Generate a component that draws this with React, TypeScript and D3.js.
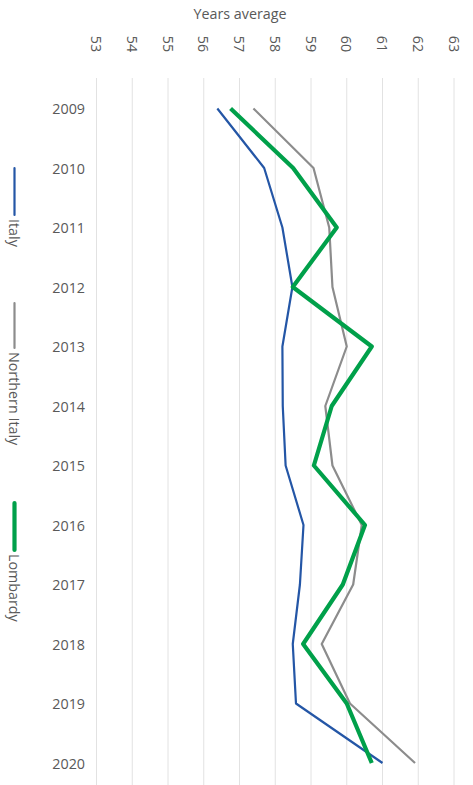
import React from 'react';
import * as d3 from 'd3';

// data
const years = ['2009', '2010', '2011', '2012', '2013', '2014', '2015', '2016', '2017', '2018', '2019', '2020'];
const italy = [56.38, 57.69, 58.2, 58.48, 58.2, 58.21, 58.29, 58.79, 58.69, 58.49, 58.58, 61.0];
const northernItaly = [57.39, 59.07, 59.51, 59.6, 60.0, 59.4, 59.6, 60.42, 60.18, 59.3, 60.09, 61.91];
const lombardy = [56.75, 58.5, 59.72, 58.49, 60.7, 59.58, 59.08, 60.51, 59.89, 58.78, 60.0, 60.7];
const ticks = [53, 54, 55, 56, 57, 58, 59, 60, 61, 62, 63];

const W = 473;
const H = 785;
const font = '"Open Sans", "Liberation Sans", sans-serif';
const fs = 14.3;
const textColor = '#595959';

export default function App() {
  const x = d3.scaleLinear().domain([53, 63]).range([96.5, 454]);
  const y = d3.scalePoint().domain(years).range([108.5, 763]);

  const series = [
    { name: 'Italy', values: italy, color: '#2456a6', width: 2.2, legend: [168, 215] },
    { name: 'Northern Italy', values: northernItaly, color: '#8c8c8c', width: 2.2, legend: [303, 348] },
    { name: 'Lombardy', values: lombardy, color: '#00a04a', width: 4.2, legend: [503, 550] },
  ];

  const line = d3.line<number>()
    .x((d) => x(d))
    .y((d, i) => y(years[i]) as number);

  return (
    <svg width={W} height={H} style={{ position: 'absolute', left: 0, top: 0, background: '#fff' }}>
      <text x={240} y={19} textAnchor="middle" fontFamily={font} fontSize={fs} fill={textColor}>
        Years average
      </text>
      {ticks.map((t) => (
        <g key={t}>
          <line x1={x(t)} x2={x(t)} y1={78} y2={H} stroke="#e2e2e2" strokeWidth={1} />
          <text
            transform={`translate(${x(t)},44) rotate(90)`}
            textAnchor="middle"
            dominantBaseline="central"
            fontFamily={font}
            fontSize={fs}
            fill={textColor}
          >
            {t}
          </text>
        </g>
      ))}
      {years.map((yr) => (
        <text
          key={yr}
          x={85}
          y={y(yr)}
          textAnchor="end"
          dominantBaseline="central"
          fontFamily={font}
          fontSize={fs}
          fill={textColor}
        >
          {yr}
        </text>
      ))}
      {series.map((s) => (
        <path key={s.name} d={line(s.values) || ''} fill="none" stroke={s.color} strokeWidth={s.width} strokeLinejoin="round" />
      ))}
      {series.map((s) => (
        <g key={'leg' + s.name}>
          <line x1={14.5} x2={14.5} y1={s.legend[0]} y2={s.legend[1]} stroke={s.color} strokeWidth={s.width} strokeLinecap="round" />
          <text
            transform={`translate(14.5,${s.legend[1] + 4}) rotate(90)`}
            textAnchor="start"
            dominantBaseline="central"
            fontFamily={font}
            fontSize={fs}
            fill={textColor}
          >
            {s.name}
          </text>
        </g>
      ))}
    </svg>
  );
}
